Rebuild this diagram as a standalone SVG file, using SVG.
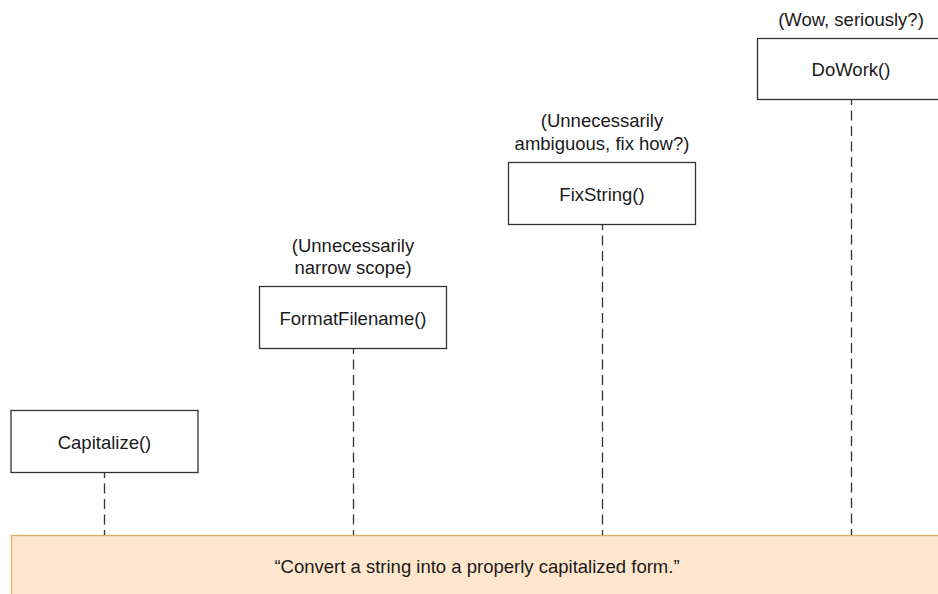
<svg xmlns="http://www.w3.org/2000/svg" width="938" height="594" viewBox="0 0 938 594">
  <style>
    .box { fill: #ffffff; stroke: #333333; stroke-width: 1.3; }
    .lbl { font-family: "Liberation Sans", Arial, Helvetica, sans-serif; font-size: 18.5px; fill: #1a1a1a; text-anchor: middle; }
    .life { stroke: #333333; stroke-width: 1.3; stroke-dasharray: 10 5.5; stroke-dashoffset: 5; fill: none; }
    .band { fill: #ffe6cc; stroke: #e0b060; stroke-width: 1.3; }
  </style>

  <!-- shared description band -->
  <g id="description">
    <rect class="band" x="11.5" y="535.5" width="940" height="70"/>
    <text class="lbl" x="477" y="572.5">“Convert a string into a properly capitalized form.”</text>
  </g>

  <!-- dashed lifelines from each name down to the description -->
  <g id="connectors">
    <line class="life" x1="104.5" y1="473" x2="104.5" y2="535"/>
    <line class="life" x1="353.5" y1="349" x2="353.5" y2="535"/>
    <line class="life" x1="602.5" y1="225" x2="602.5" y2="535"/>
    <line class="life" x1="851.5" y1="100" x2="851.5" y2="535"/>
  </g>

  <g id="capitalize">
    <rect class="box" x="11" y="410.5" width="187" height="62"/>
    <text class="lbl" x="104.5" y="448.5">Capitalize()</text>
  </g>

  <g id="format-filename">
    <text class="lbl" x="353" y="251.5">(Unnecessarily</text>
    <text class="lbl" x="353" y="274">narrow scope)</text>
    <rect class="box" x="259.5" y="286.5" width="187" height="62"/>
    <text class="lbl" x="353" y="324.5">FormatFilename()</text>
  </g>

  <g id="fix-string">
    <text class="lbl" x="602" y="127">(Unnecessarily</text>
    <text class="lbl" x="602" y="149.5">ambiguous, fix how?)</text>
    <rect class="box" x="508.5" y="162.5" width="187" height="62"/>
    <text class="lbl" x="602" y="200.5">FixString()</text>
  </g>

  <g id="do-work">
    <text class="lbl" x="851" y="25.5">(Wow, seriously?)</text>
    <rect class="box" x="757.5" y="38.5" width="187" height="61"/>
    <text class="lbl" x="851" y="76">DoWork()</text>
  </g>
</svg>
